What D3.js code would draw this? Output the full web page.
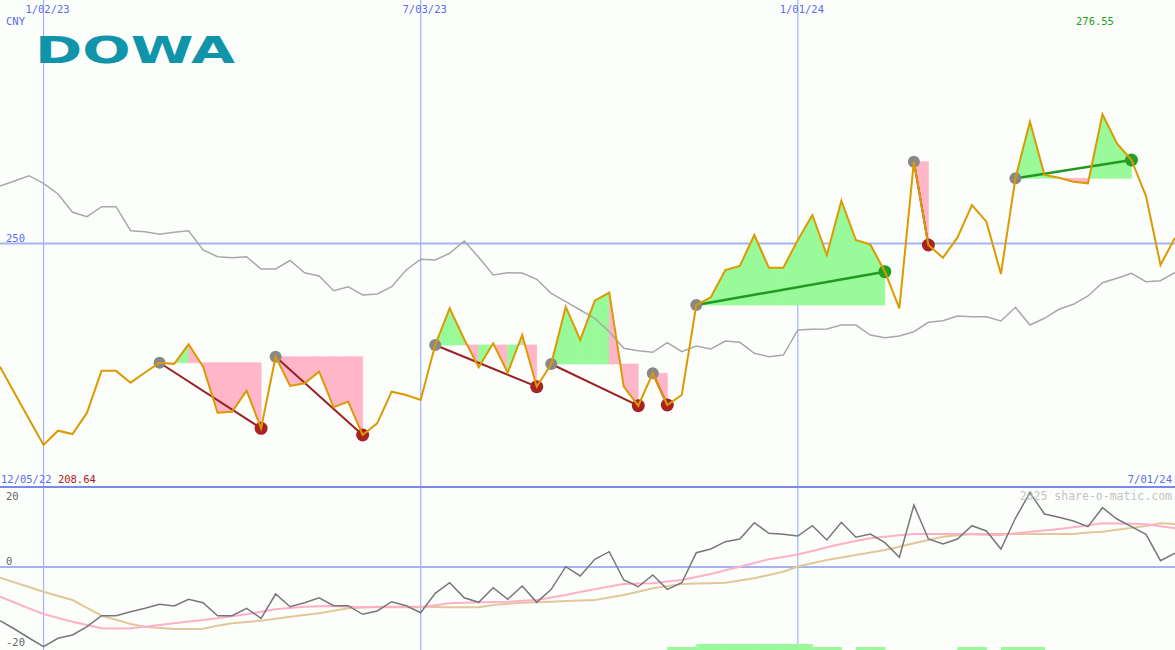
<!DOCTYPE html>
<html><head><meta charset="utf-8">
<script src="https://cdn.jsdelivr.net/npm/d3@7"></script>
<style>html,body{margin:0;padding:0;background:#fcfefc;}svg{display:block;}</style>
</head><body><svg id="c" width="1175" height="650"></svg>
<script>
// ---------- data ----------
const startDate = new Date(2022, 11, 12);
const endDate = new Date(2024, 6, 1);
const price = [224.70, 219.30, 213.96, 208.64, 211.56, 210.88, 215.26, 223.88, 223.85, 221.42,
 223.51, 225.52, 225.26, 229.30, 224.70, 215.26, 215.46, 219.77, 212.05, 226.76,
 220.74, 221.29, 223.68, 216.37, 217.52, 210.68, 213.08, 219.57, 218.89, 217.86,
 229.16, 236.69, 230.33, 224.58, 229.51, 223.47, 231.21, 220.60, 225.26, 237.02,
 230.18, 238.25, 239.90, 220.60, 216.69, 223.35, 216.84, 218.89, 237.37, 238.95,
 244.56, 245.38, 251.75, 245.03, 245.03, 250.72, 255.85, 247.64, 258.79, 250.72,
 249.80, 244.21, 236.69, 266.80, 249.69, 247.08, 251.19, 257.91, 254.48, 243.74,
 263.39, 275.01, 264.07, 263.51, 262.69, 262.36, 276.55, 270.57, 267.15, 259.75,
 245.59, 251.19];
const compare = [261.81, 262.83, 263.92, 262.36, 260.16, 256.41, 255.50, 257.56, 257.56, 252.63,
 252.42, 251.89, 252.30, 252.63, 248.67, 247.29, 247.08, 247.29, 244.76, 244.76,
 246.51, 244.00, 243.33, 240.31, 241.13, 239.43, 239.63, 241.13, 244.56, 246.76,
 246.61, 247.99, 250.51, 247.17, 243.53, 244.00, 243.95, 242.65, 239.77, 238.05,
 236.34, 234.64, 231.89, 228.48, 227.99, 227.66, 229.63, 227.78, 228.95, 228.34,
 229.98, 229.71, 227.45, 226.76, 227.10, 232.24, 232.38, 232.44, 233.26, 233.26,
 231.21, 230.66, 231.01, 231.89, 233.82, 234.15, 235.11, 234.97, 234.97, 234.09,
 236.90, 233.26, 234.64, 236.49, 237.52, 239.22, 241.95, 242.85, 243.88, 242.16,
 242.36, 244.09];
const momentum = [-13.43, -15.5, -17.75, -19.93, -17.83, -17.0, -14.93, -12.18, -12.18, -11.18,
 -10.33, -9.33, -9.75, -8.08, -8.93, -12.18, -12.18, -10.33, -12.83, -6.75,
 -9.93, -8.93, -7.68, -9.68, -9.68, -11.83, -11.0, -8.68, -9.68, -11.43,
 -6.58, -3.93, -7.68, -8.83, -5.18, -8.08, -4.75, -8.83, -5.58, 0.08,
 -2.25, 1.93, 3.83, -3.25, -4.93, -2.0, -5.58, -3.93, 3.58, 4.5,
 6.33, 7.0, 11.08, 8.43, 8.18, 7.75, 10.33, 6.75, 11.18, 7.43,
 8.25, 6.08, 2.43, 15.5, 7.0, 5.75, 7.0, 10.33, 9.0, 4.5,
 12.18, 18.58, 13.25, 12.43, 11.5, 10.08, 14.83, 12.0, 10.08, 8.18,
 1.58, 3.43];
const momFast = [-7.43, -8.88, -10.33, -11.75, -12.75, -13.7, -14.5, -15.33, -15.38, -15.33,
 -14.93, -14.5, -14.08, -13.63, -13.25, -12.83, -12.33, -11.83, -11.2, -10.58,
 -10.25, -9.93, -9.83, -9.75, -9.93, -10.08, -10.08, -10.08, -10.08, -10.08,
 -9.58, -9.08, -8.95, -8.83, -8.75, -8.68, -8.45, -8.25, -7.63, -7.0,
 -6.25, -5.58, -4.88, -4.25, -4.15, -4.08, -3.65, -3.25, -2.5, -1.75,
 -0.83, 0.08, 1.0, 1.93, 2.5, 3.13, 4.0, 4.93, 5.75, 6.5,
 7.18, 7.58, 7.93, 8.25, 8.25, 8.25, 8.25, 8.18, 8.08, 8.0,
 8.43, 8.83, 9.13, 9.5, 9.93, 10.43, 10.93, 10.88, 10.8, 10.7,
 10.2, 9.68];
const momSlow = [-2.68, -3.85, -5.0, -6.18, -7.23, -8.25, -10.2, -12.18, -13.2, -14.25,
 -14.93, -15.25, -15.5, -15.5, -15.43, -14.7, -14.08, -13.75, -13.43, -12.93,
 -12.43, -12.0, -11.58, -10.95, -10.33, -10.13, -9.93, -9.93, -9.93, -9.93,
 -10.0, -10.08, -10.08, -10.08, -9.5, -9.2, -8.93, -8.8, -8.68, -8.53,
 -8.4, -8.25, -7.63, -7.0, -6.18, -5.33, -4.78, -4.25, -4.15, -4.08,
 -3.93, -3.38, -2.83, -2.0, -1.18, 0.13, 0.95, 1.75, 2.4, 3.0,
 3.63, 4.25, 5.08, 5.93, 6.75, 7.58, 7.93, 8.25, 8.25, 8.25,
 8.25, 8.25, 8.25, 8.25, 8.25, 8.63, 8.83, 9.3, 9.78, 10.25,
 10.93, 10.75];
const signalBars = [0,0,0,0,0,0,0,0,0,0, 0,0,0,0,0,0,0,0,0,0, 0,0,0,0,0,0,0,0,0,0,
 0,0,0,0,0,0,0,0,0,0, 0,0,0,0,0,0,1,1,2,2, 2,2,2,2,2,2,1,1,0,1,
 1,0,0,0,0,0,1,1,0,1, 1,1,0,0,0,0,0,0,0,0, 0,0];
const patternStart = [11, 19, 30, 38, 45, 48, 63, 70];
const patternEnd   = [18, 25, 37, 44, 46, 61, 64, 78];
const tickDates  = [new Date(2023,0,2), new Date(2023,6,3), new Date(2024,0,1)];
const tickLabels = ["1/02/23", "7/03/23", "1/01/24"];
const priceGrid = [250];
const lowerTicks = [20, 0, -20];
const firstDateLabel = "12/05/22", lastDateLabel = "7/01/24";
const lowLabel = "208.64", highLabel = "276.55";
const currencyLabel = "CNY", logoText = "DOWA", credit = "2025 share-o-matic.com";

// ---------- setup ----------
const W = 1175, H = 650, splitY = 487;
const svg = d3.select("#c");
const dates = price.map((_, i) => d3.timeDay.offset(startDate, 7 * i));
const x = d3.scaleTime().domain([startDate, endDate]).range([0, W]);
const y = d3.scaleLinear().domain([200, 300]).range([splitY, 0]);
const yl = d3.scaleLinear().domain([-20.75, 20]).range([H, splitY]);
const barH = d3.scaleLinear().domain([0, 2]).range([0, 6]);
const mono = "DejaVu Sans Mono";
const gridCol = "#a3b3f3", blueTxt = "#5a6cf0";

svg.append("rect").attr("width", W).attr("height", H).attr("fill", "#fcfefc");
const defs = svg.append("defs");
defs.append("clipPath").attr("id", "cm").append("rect").attr("x", 0).attr("y", 0).attr("width", W).attr("height", splitY);
defs.append("clipPath").attr("id", "cl").append("rect").attr("x", 0).attr("y", splitY).attr("width", W).attr("height", H - splitY);

// grid
svg.selectAll(".vg").data(tickDates).join("line")
  .attr("x1", d => x(d)).attr("x2", d => x(d)).attr("y1", 0).attr("y2", H)
  .attr("stroke", gridCol).attr("stroke-width", 1.2);
svg.selectAll(".hg").data(priceGrid).join("line")
  .attr("x1", 0).attr("x2", W).attr("y1", d => y(d)).attr("y2", d => y(d))
  .attr("stroke", gridCol).attr("stroke-width", 2);
svg.append("line").attr("x1", 0).attr("x2", W).attr("y1", yl(0)).attr("y2", yl(0))
  .attr("stroke", gridCol).attr("stroke-width", 2);

// ---------- main panel ----------
const gm = svg.append("g").attr("clip-path", "url(#cm)");
const green = "#98fa98", pink = "#ffb6c8";
patternStart.forEach((s, pi) => {
  const e = patternEnd[pi], base = price[s];
  for (let k = s + 1; k <= e; k++) {
    const pts = [[x(dates[k-1]), y(base)], [x(dates[k-1]), y(price[k-1])], [x(dates[k]), y(price[k])], [x(dates[k]), y(base)]];
    const col = price[k] > base ? green : pink;
    gm.append("path").attr("d", "M" + pts.join("L") + "Z")
      .attr("fill", col).attr("stroke", col).attr("stroke-width", 0.7);
  }
});
const lineM = d3.line().x((d, i) => x(dates[i])).y(d => y(d));
gm.append("path").datum(compare).attr("d", lineM).attr("fill", "none")
  .attr("stroke", "#a8a8a8").attr("stroke-width", 1.5);
patternStart.forEach((s, pi) => {
  const e = patternEnd[pi], up = price[e] > price[s];
  gm.append("line").attr("x1", x(dates[s])).attr("y1", y(price[s]))
    .attr("x2", x(dates[e])).attr("y2", y(price[e]))
    .attr("stroke", up ? "#229922" : "#992222").attr("stroke-width", up ? 2.5 : 2);
  gm.append("circle").attr("cx", x(dates[s])).attr("cy", y(price[s])).attr("r", 6).attr("fill", "#888888");
  gm.append("circle").attr("cx", x(dates[e])).attr("cy", y(price[e])).attr("r", 6.5)
    .attr("fill", up ? "#22a022" : "#a82222");
});
gm.append("path").datum(price).attr("d", lineM).attr("fill", "none")
  .attr("stroke", "#dd9900").attr("stroke-width", 2).attr("stroke-linejoin", "miter");

// ---------- lower panel ----------
const gl = svg.append("g").attr("clip-path", "url(#cl)");
gl.selectAll(".sb").data(signalBars).join("rect")
  .attr("x", (d, i) => x(dates[i])).attr("width", (d, i) => x(d3.timeDay.offset(dates[i], 7)) - x(dates[i]) + 0.5)
  .attr("y", d => H - barH(d)).attr("height", d => barH(d)).attr("fill", green);
const lineL = d3.line().x((d, i) => x(dates[i])).y(d => yl(d));
gl.append("path").datum(momSlow).attr("d", lineL).attr("fill", "none").attr("stroke", "#e0c898").attr("stroke-width", 2);
gl.append("path").datum(momFast).attr("d", lineL).attr("fill", "none").attr("stroke", "#ffb0c8").attr("stroke-width", 2);
gl.append("path").datum(momentum).attr("d", lineL).attr("fill", "none").attr("stroke", "#777777").attr("stroke-width", 1.5);

svg.append("line").attr("x1", 0).attr("x2", W).attr("y1", splitY).attr("y2", splitY)
  .attr("stroke", "#7888ee").attr("stroke-width", 2);

// ---------- text ----------
const txt = (s, xx, yy, col, anchor, size) => svg.append("text").text(s).attr("x", xx).attr("y", yy)
  .attr("fill", col).attr("text-anchor", anchor || "start")
  .attr("font-family", mono).attr("font-size", size || 10.5);
tickDates.forEach((d, i) => txt(tickLabels[i], x(d) + 4, 12.5, blueTxt, "middle"));
txt(currencyLabel, 6, 25, blueTxt);
priceGrid.forEach(v => txt(String(v), 6, y(v) - 2, blueTxt));
txt(highLabel, 1076, 25, "#22a022");
const fl = txt(firstDateLabel, 1, 482.5, blueTxt);
fl.append("tspan").text(" " + lowLabel).attr("fill", "#aa2222");
txt(lastDateLabel, 1172, 482.5, blueTxt, "end");
txt(credit, 1172, 500, "#c4c4c4", "end", 11.5);
lowerTicks.forEach(v => {
  const yy = v === 20 ? 500 : (v === 0 ? yl(0) - 2.5 : 645.5);
  txt(String(v), 6, yy, "#666666");
});
svg.append("text").text(logoText).attr("x", 35).attr("y", 63)
  .attr("font-family", "DejaVu Sans").attr("font-weight", "bold").attr("font-size", 38)
  .attr("textLength", 200).attr("lengthAdjust", "spacingAndGlyphs").attr("fill", "#0f94aa");
</script></body></html>
